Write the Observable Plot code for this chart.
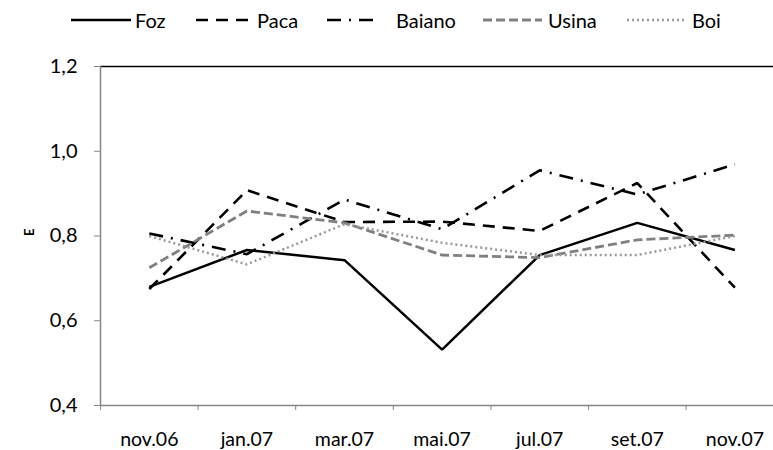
<!DOCTYPE html>
<html>
<head>
<meta charset="utf-8">
<script src="https://cdn.jsdelivr.net/npm/d3@7"></script>
<script src="https://cdn.jsdelivr.net/npm/@observablehq/plot@0.6"></script>
<style>
  body { margin: 0; background: #fff; font-family: Lato, "Open Sans", sans-serif; overflow: hidden; }
  #legend { position: relative; width: 773px; height: 25px; }
  #legend svg { position: absolute; top: 14px; }
  #legend span { position: absolute; top: 8px; font-size: 20px; line-height: 24px; color: #000; }
  #chart svg { display: block; }
</style>
</head>
<body>
<div id="legend"></div>
<div id="chart"></div>
<script>
const months = ["nov.06", "jan.07", "mar.07", "mai.07", "jul.07", "set.07", "nov.07"];
const seriesNames = ["Foz", "Paca", "Baiano", "Usina", "Boi"];
const foz    = [0.680, 0.767, 0.743, 0.532, 0.755, 0.831, 0.767];
const paca   = [0.675, 0.908, 0.833, 0.834, 0.812, 0.925, 0.678];
const baiano = [0.806, 0.757, 0.886, 0.816, 0.955, 0.898, 0.969];
const usina  = [0.725, 0.859, 0.831, 0.755, 0.749, 0.791, 0.802];
const boi    = [0.800, 0.733, 0.828, 0.784, 0.755, 0.755, 0.800];
const yTicks = [0.4, 0.6, 0.8, 1.0, 1.2];

const styles = {
  Foz:    {stroke: "#000000", dash: null,          width: 2.5},
  Paca:   {stroke: "#000000", dash: "12,8",        width: 2.6},
  Baiano: {stroke: "#000000", dash: "14,8,2,8",    width: 2.6},
  Usina:  {stroke: "#808080", dash: "9,4",         width: 2.8},
  Boi:    {stroke: "#999999", dash: "2,3",         width: 2.5}
};
const values = {Foz: foz, Paca: paca, Baiano: baiano, Usina: usina, Boi: boi};
const table = seriesNames.flatMap(s => values[s].map((v, i) => ({series: s, i, v})));

// legend
const legendPos = {
  Foz:    {l1: 71,  l2: 131, t: 135},
  Paca:   {l1: 196, l2: 255, t: 257},
  Baiano: {l1: 327, l2: 378, t: 396},
  Usina:  {l1: 483, l2: 542, t: 548},
  Boi:    {l1: 627, l2: 687, t: 692}
};
const legend = document.getElementById("legend");
for (const s of seriesNames) {
  const p = legendPos[s], st = styles[s];
  const w = p.l2 - p.l1;
  legend.insertAdjacentHTML("beforeend",
    `<svg width="${w}" height="12" style="left:${p.l1}px"><line x1="0" x2="${w}" y1="6" y2="6" stroke="${st.stroke}" stroke-width="${st.width}" ${st.dash ? `stroke-dasharray="${st.dash}"` : ""}/></svg>` +
    `<span style="left:${p.t}px">${s}</span>`);
}

const axisGray = "#868686";
const marks = [
  Plot.ruleY([1.2], {stroke: "#000", strokeWidth: 1.5}),
  Plot.ruleY([0.4], {stroke: axisGray, strokeWidth: 1.5}),
  Plot.ruleX([-0.5], {y1: 0.4, y2: 1.2, stroke: axisGray, strokeWidth: 1.5}),
  Plot.axisY({ticks: yTicks, tickSize: 6, tickPadding: 17, stroke: axisGray, fill: "#000",
    tickFormat: d => d.toFixed(1).replace(".", ","), label: null, fontSize: 20}),
  Plot.axisX({ticks: d3.range(7).map(i => i - 0.5), tickSize: 5, stroke: axisGray,
    tickFormat: () => "", label: null}),
  Plot.axisX({ticks: d3.range(7), tickSize: 0, tickPadding: 27, fill: "#000",
    tickFormat: i => months[i], label: null, fontSize: 19.5}),
  Plot.text(["E"], {frameAnchor: "left", dx: -71, rotate: -90, fontSize: 13, fontWeight: "bold", fill: "#000"})
];
for (const s of seriesNames) {
  const st = styles[s];
  marks.push(Plot.line(table.filter(d => d.series === s), {
    x: "i", y: "v", stroke: st.stroke, strokeWidth: st.width,
    strokeDasharray: st.dash || undefined, strokeLinejoin: "miter", strokeLinecap: "butt"
  }));
}

const chart = Plot.plot({
  width: 773, height: 425,
  marginLeft: 100, marginRight: 0, marginTop: 41, marginBottom: 45,
  x: {domain: [-0.5, 6.5], range: [100, 783.2]},
  y: {domain: [0.4, 1.2], range: [380, 41]},
  style: {fontFamily: "Lato, 'Open Sans', sans-serif", fontSize: "20px", color: "#000", background: "#fff", overflow: "visible"},
  marks
});
document.getElementById("chart").appendChild(chart);
</script>
</body>
</html>
